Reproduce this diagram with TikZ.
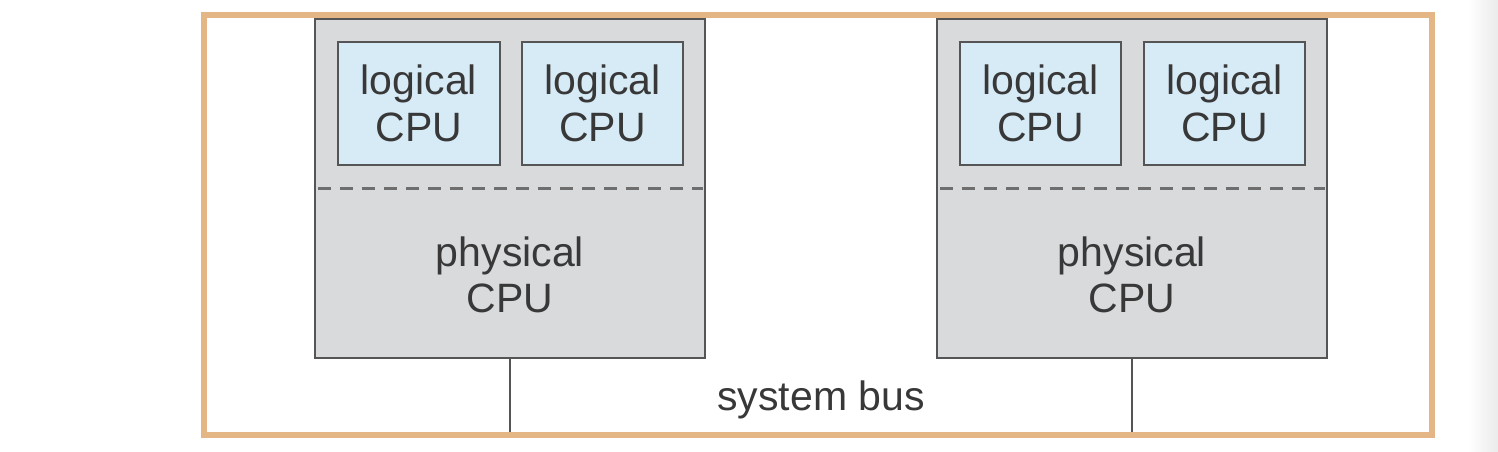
\documentclass[tikz,border=0pt]{standalone}
\usepackage{fontspec}
\setmainfont{Liberation Sans}
\definecolor{frameor}{HTML}{E4B585}
\definecolor{physfill}{HTML}{D9DADC}
\definecolor{logfill}{HTML}{D7EBF7}
\definecolor{edge}{HTML}{555555}
\definecolor{txt}{HTML}{383838}
\begin{document}
\begin{tikzpicture}[x=1pt,y=-1pt,
  frame/.style={draw=frameor, line width=6pt, minimum width=1228pt, minimum height=419pt, inner sep=0pt, outer sep=0pt},
  physbox/.style={draw=edge, fill=physfill, line width=2.5pt, minimum width=390pt, minimum height=339pt, inner sep=0pt, outer sep=0pt},
  logbox/.style={draw=edge, fill=logfill, line width=2.2pt, minimum width=162pt, minimum height=123pt, inner sep=0pt, outer sep=0pt,
    text=txt, align=center, font=\fontsize{41}{47}\selectfont},
  lbl/.style={text=txt, align=center, font=\fontsize{41}{46}\selectfont, inner sep=0pt},
  dashln/.style={draw=edge!85, line width=3pt, dash pattern=on 13pt off 9pt},
  busln/.style={draw=edge, line width=2pt}
]
\useasboundingbox (0,0) rectangle (1498,452);
\fill[white] (0,0) rectangle (1498,452);
\shade[left color=white, right color=black!8] (1468,0) rectangle (1498,452);

\node[frame] (frame) at (818,225) {};

% left CPU
\node[physbox] (p1) at (510,188.5) {};
\node[logbox] (l1a) at (419,103.5) {logical\\CPU};
\node[logbox, minimum width=161pt] (l1b) at (602.5,103.5) {logical\\CPU};
\coordinate (d1s) at (318,188);
\coordinate (d1e) at (703,188);
\draw[dashln] (d1s) -- (d1e);
\node[lbl] (t1) at (510,275) {physical\\CPU};

% right CPU
\node[physbox] (p2) at (1132,188.5) {};
\node[logbox, minimum width=161pt] (l2a) at (1040.5,103.5) {logical\\CPU};
\node[logbox, minimum width=161pt] (l2b) at (1224.5,103.5) {logical\\CPU};
\coordinate (d2s) at (940,188);
\coordinate (d2e) at (1325,188);
\draw[dashln] (d2s) -- (d2e);
\node[lbl] (t2) at (1132,275) {physical\\CPU};

% bus
\coordinate (b1) at (510,432);
\coordinate (b2) at (1132,432);
\draw[busln] (p1.south) -- (b1);
\draw[busln] (p2.south) -- (b2);
\node[lbl, anchor=base] (bus) at (821,410) {system bus};
\end{tikzpicture}
\end{document}
